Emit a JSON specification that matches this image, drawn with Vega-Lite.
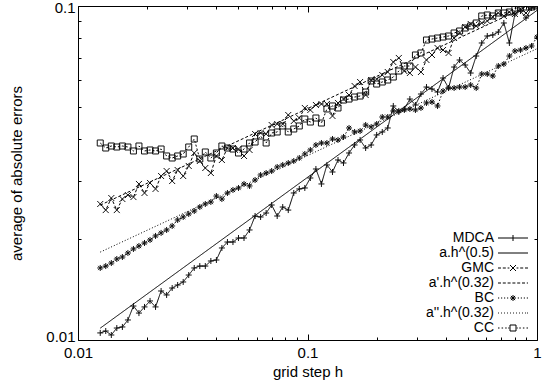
{
  "$schema": "https://vega.github.io/schema/vega-lite/v6.json",
  "width": 459,
  "height": 334,
  "autosize": "none",
  "padding": {"left": 78, "top": 6, "right": 6, "bottom": 48},
  "background": "white",
  "config": {
    "view": {"stroke": "black", "strokeWidth": 1},
    "font": "Liberation Sans",
    "axis": {"grid": false, "domain": false, "tickColor": "black", "tickWidth": 1, "labelColor": "black", "titleColor": "black", "labelFont": "Liberation Sans", "titleFont": "Liberation Sans", "labelFontSize": 15, "titleFontSize": 15, "titleFontWeight": "normal", "labelFlush": false, "labelOverlap": false}
  },
  "datasets": {
    "series": [
      {"h": 0.0125, "MDCA": 0.01050, "GMC": 0.02554, "BC": 0.01643, "CC": 0.03889},
      {"h": 0.01321, "MDCA": 0.01064, "GMC": 0.02449, "BC": 0.01665, "CC": 0.03757},
      {"h": 0.01397, "MDCA": 0.01035, "GMC": 0.02661, "BC": 0.01700, "CC": 0.03809},
      {"h": 0.01476, "MDCA": 0.01086, "GMC": 0.02449, "BC": 0.01748, "CC": 0.03783},
      {"h": 0.01561, "MDCA": 0.01094, "GMC": 0.02643, "BC": 0.01772, "CC": 0.03809},
      {"h": 0.01650, "MDCA": 0.01148, "GMC": 0.02716, "BC": 0.01822, "CC": 0.03783},
      {"h": 0.01744, "MDCA": 0.01264, "GMC": 0.02679, "BC": 0.01873, "CC": 0.03681},
      {"h": 0.01843, "MDCA": 0.01204, "GMC": 0.02932, "BC": 0.01912, "CC": 0.03809},
      {"h": 0.01949, "MDCA": 0.01256, "GMC": 0.02755, "BC": 0.01952, "CC": 0.03681},
      {"h": 0.02060, "MDCA": 0.01309, "GMC": 0.02952, "BC": 0.01993, "CC": 0.03706},
      {"h": 0.02177, "MDCA": 0.01256, "GMC": 0.02833, "BC": 0.02049, "CC": 0.03681},
      {"h": 0.02302, "MDCA": 0.01402, "GMC": 0.03097, "BC": 0.02092, "CC": 0.03731},
      {"h": 0.02433, "MDCA": 0.01364, "GMC": 0.03206, "BC": 0.02135, "CC": 0.03556},
      {"h": 0.02572, "MDCA": 0.01431, "GMC": 0.02992, "BC": 0.02195, "CC": 0.03507},
      {"h": 0.02718, "MDCA": 0.01461, "GMC": 0.03228, "BC": 0.02288, "CC": 0.03556},
      {"h": 0.02873, "MDCA": 0.01492, "GMC": 0.03097, "BC": 0.02335, "CC": 0.03605},
      {"h": 0.03037, "MDCA": 0.01565, "GMC": 0.03319, "BC": 0.02384, "CC": 0.03783},
      {"h": 0.03210, "MDCA": 0.01643, "GMC": 0.03630, "BC": 0.02433, "CC": 0.03998},
      {"h": 0.03394, "MDCA": 0.01665, "GMC": 0.03435, "BC": 0.02501, "CC": 0.03483},
      {"h": 0.03587, "MDCA": 0.01665, "GMC": 0.03273, "BC": 0.02554, "CC": 0.03655},
      {"h": 0.03792, "MDCA": 0.01724, "GMC": 0.03162, "BC": 0.02589, "CC": 0.03507},
      {"h": 0.04009, "MDCA": 0.01736, "GMC": 0.03556, "BC": 0.02698, "CC": 0.03630},
      {"h": 0.04236, "MDCA": 0.01886, "GMC": 0.03459, "BC": 0.02643, "CC": 0.03809},
      {"h": 0.04478, "MDCA": 0.01965, "GMC": 0.03757, "BC": 0.02755, "CC": 0.03757},
      {"h": 0.04734, "MDCA": 0.01965, "GMC": 0.03757, "BC": 0.02813, "CC": 0.03731},
      {"h": 0.05004, "MDCA": 0.02020, "GMC": 0.03731, "BC": 0.02852, "CC": 0.03630},
      {"h": 0.05289, "MDCA": 0.02020, "GMC": 0.03556, "BC": 0.02932, "CC": 0.03731},
      {"h": 0.05591, "MDCA": 0.02135, "GMC": 0.03706, "BC": 0.02892, "CC": 0.03889},
      {"h": 0.05910, "MDCA": 0.02351, "GMC": 0.04138, "BC": 0.03013, "CC": 0.03916},
      {"h": 0.06247, "MDCA": 0.02335, "GMC": 0.04167, "BC": 0.03119, "CC": 0.04081},
      {"h": 0.06603, "MDCA": 0.02400, "GMC": 0.04138, "BC": 0.03162, "CC": 0.03889},
      {"h": 0.06980, "MDCA": 0.02536, "GMC": 0.04403, "BC": 0.03206, "CC": 0.04167},
      {"h": 0.07378, "MDCA": 0.02351, "GMC": 0.04433, "BC": 0.03296, "CC": 0.04196},
      {"h": 0.07799, "MDCA": 0.02501, "GMC": 0.04433, "BC": 0.03342, "CC": 0.04373},
      {"h": 0.08244, "MDCA": 0.02449, "GMC": 0.04717, "BC": 0.03388, "CC": 0.04196},
      {"h": 0.08714, "MDCA": 0.02755, "GMC": 0.04525, "BC": 0.03435, "CC": 0.04283},
      {"h": 0.09209, "MDCA": 0.02833, "GMC": 0.04620, "BC": 0.03507, "CC": 0.04373},
      {"h": 0.09734, "MDCA": 0.02852, "GMC": 0.04951, "BC": 0.03605, "CC": 0.04588},
      {"h": 0.1029, "MDCA": 0.03055, "GMC": 0.04883, "BC": 0.03706, "CC": 0.04494},
      {"h": 0.1088, "MDCA": 0.03251, "GMC": 0.05054, "BC": 0.03836, "CC": 0.04620},
      {"h": 0.1150, "MDCA": 0.02932, "GMC": 0.05089, "BC": 0.03889, "CC": 0.04463},
      {"h": 0.1215, "MDCA": 0.03342, "GMC": 0.05089, "BC": 0.03889, "CC": 0.04917},
      {"h": 0.1285, "MDCA": 0.03184, "GMC": 0.04685, "BC": 0.03998, "CC": 0.05020},
      {"h": 0.1358, "MDCA": 0.03459, "GMC": 0.05125, "BC": 0.03971, "CC": 0.04951},
      {"h": 0.1435, "MDCA": 0.03388, "GMC": 0.05266, "BC": 0.04054, "CC": 0.05230},
      {"h": 0.1517, "MDCA": 0.03630, "GMC": 0.05414, "BC": 0.04313, "CC": 0.05266},
      {"h": 0.1604, "MDCA": 0.03836, "GMC": 0.05761, "BC": 0.04196, "CC": 0.05339},
      {"h": 0.1695, "MDCA": 0.03971, "GMC": 0.05922, "BC": 0.04225, "CC": 0.05376},
      {"h": 0.1792, "MDCA": 0.03757, "GMC": 0.05414, "BC": 0.04403, "CC": 0.05526},
      {"h": 0.1894, "MDCA": 0.03836, "GMC": 0.06004, "BC": 0.04343, "CC": 0.05963},
      {"h": 0.2002, "MDCA": 0.04110, "GMC": 0.06045, "BC": 0.04433, "CC": 0.05840},
      {"h": 0.2117, "MDCA": 0.04196, "GMC": 0.06215, "BC": 0.04652, "CC": 0.05922},
      {"h": 0.2237, "MDCA": 0.04313, "GMC": 0.06344, "BC": 0.04652, "CC": 0.06004},
      {"h": 0.2365, "MDCA": 0.05020, "GMC": 0.06798, "BC": 0.04850, "CC": 0.06129},
      {"h": 0.2500, "MDCA": 0.04816, "GMC": 0.06989, "BC": 0.04850, "CC": 0.06388},
      {"h": 0.2642, "MDCA": 0.04917, "GMC": 0.06388, "BC": 0.04883, "CC": 0.06612},
      {"h": 0.2793, "MDCA": 0.05266, "GMC": 0.06300, "BC": 0.04917, "CC": 0.06612},
      {"h": 0.2953, "MDCA": 0.05054, "GMC": 0.06566, "BC": 0.04883, "CC": 0.07134},
      {"h": 0.3121, "MDCA": 0.05451, "GMC": 0.06344, "BC": 0.04951, "CC": 0.07233},
      {"h": 0.3299, "MDCA": 0.05720, "GMC": 0.06891, "BC": 0.05125, "CC": 0.07909},
      {"h": 0.3487, "MDCA": 0.05642, "GMC": 0.07134, "BC": 0.05161, "CC": 0.07964},
      {"h": 0.3686, "MDCA": 0.05526, "GMC": 0.07487, "BC": 0.05020, "CC": 0.08019},
      {"h": 0.3896, "MDCA": 0.06087, "GMC": 0.07384, "BC": 0.05565, "CC": 0.08075},
      {"h": 0.4118, "MDCA": 0.05681, "GMC": 0.07233, "BC": 0.05681, "CC": 0.08131},
      {"h": 0.4353, "MDCA": 0.06566, "GMC": 0.08019, "BC": 0.05681, "CC": 0.08302},
      {"h": 0.4601, "MDCA": 0.06891, "GMC": 0.08302, "BC": 0.05720, "CC": 0.08416},
      {"h": 0.4864, "MDCA": 0.06657, "GMC": 0.08652, "BC": 0.05720, "CC": 0.08593},
      {"h": 0.5141, "MDCA": 0.06300, "GMC": 0.08834, "BC": 0.05800, "CC": 0.08713},
      {"h": 0.5434, "MDCA": 0.07084, "GMC": 0.08713, "BC": 0.05681, "CC": 0.08895},
      {"h": 0.5744, "MDCA": 0.07749, "GMC": 0.08895, "BC": 0.06257, "CC": 0.09334},
      {"h": 0.6072, "MDCA": 0.08131, "GMC": 0.09018, "BC": 0.06257, "CC": 0.09399},
      {"h": 0.6418, "MDCA": 0.08188, "GMC": 0.09270, "BC": 0.06171, "CC": 0.09334},
      {"h": 0.6784, "MDCA": 0.08359, "GMC": 0.09529, "BC": 0.06612, "CC": 0.09529},
      {"h": 0.7171, "MDCA": 0.08895, "GMC": 0.09334, "BC": 0.06703, "CC": 0.09529},
      {"h": 0.7580, "MDCA": 0.07749, "GMC": 0.09594, "BC": 0.07084, "CC": 0.09594},
      {"h": 0.8013, "MDCA": 0.09463, "GMC": 0.09463, "BC": 0.07333, "CC": 0.09863},
      {"h": 0.8470, "MDCA": 0.09661, "GMC": 0.09795, "BC": 0.07384, "CC": 0.09863},
      {"h": 0.8953, "MDCA": 0.09206, "GMC": 0.09529, "BC": 0.07487, "CC": 0.09931},
      {"h": 0.9465, "MDCA": 0.09863, "GMC": 0.09931, "BC": 0.07591, "CC": 0.09931},
      {"h": 1.0, "MDCA": 0.1000, "GMC": 0.0998, "BC": 0.08075, "CC": 0.1000}
    ],
    "fits": [
      {"name": "a.h^(0.5)", "h": 0.0125, "e": 0.01085},
      {"name": "a.h^(0.5)", "h": 1.0, "e": 0.0970},
      {"name": "a'.h^(0.32)", "h": 0.0125, "e": 0.02534},
      {"name": "a'.h^(0.32)", "h": 1.0, "e": 0.1030},
      {"name": "a''.h^(0.32)", "h": 0.0125, "e": 0.01833},
      {"name": "a''.h^(0.32)", "h": 1.0, "e": 0.0745}
    ]
  },
  "resolve": {
    "scale": {"shape": "independent"},
    "axis": {"x": "independent", "y": "independent"}
  },
  "layer": [
    {
      "data": {"name": "fits"},
      "mark": {"type": "line", "clip": true, "stroke": "black", "strokeWidth": 1},
      "encoding": {
        "x": {"field": "h", "type": "quantitative", "scale": {"type": "log", "domain": [0.01, 1], "nice": false},
          "axis": {"orient": "bottom", "values": [0.01, 0.1, 1], "format": "~g", "tickSize": -6, "labelPadding": 11, "title": "grid step h", "titlePadding": 4}},
        "y": {"field": "e", "type": "quantitative", "scale": {"type": "log", "domain": [0.01, 0.1], "nice": false},
          "axis": {"orient": "left", "values": [0.01, 0.1], "format": "~g", "tickSize": -6, "labelPadding": 9,
                   "labelOffset": {"condition": {"test": "datum.value < 0.05", "value": -4}, "value": 1.5},
                   "title": "average of absolute errors", "titlePadding": 21}},
        "strokeDash": {"field": "name", "type": "nominal",
          "scale": {"domain": ["MDCA", "a.h^(0.5)", "GMC", "a'.h^(0.32)", "BC", "a''.h^(0.32)", "CC"],
                    "range": [[1, 0], [1, 0], [3, 2], [3, 2], [1.5, 2], [1, 2], [2, 2]]},
          "legend": null}
      }
    },
    {
      "data": {"name": "series"},
      "transform": [{"fold": ["MDCA", "GMC", "BC", "CC"], "as": ["name", "e"]}],
      "mark": {"type": "line", "clip": true, "stroke": "black", "strokeWidth": 1},
      "encoding": {
        "x": {"field": "h", "type": "quantitative",
          "axis": {"orient": "bottom", "values": [0.02, 0.03, 0.04, 0.05, 0.06, 0.07, 0.08, 0.09, 0.2, 0.3, 0.4, 0.5, 0.6, 0.7, 0.8, 0.9], "labels": false, "tickSize": -3, "title": null}},
        "y": {"field": "e", "type": "quantitative",
          "axis": {"orient": "left", "values": [0.02, 0.03, 0.04, 0.05, 0.06, 0.07, 0.08, 0.09], "labels": false, "tickSize": -3, "title": null}},
        "strokeDash": {"field": "name", "type": "nominal", "legend": null}
      }
    },
    {
      "data": {"name": "series"},
      "transform": [{"fold": ["MDCA", "GMC", "BC", "CC"], "as": ["name", "e"]}],
      "mark": {"type": "point", "filled": false, "color": "#111111", "strokeWidth": 1, "size": 36, "opacity": 1, "clip": true},
      "encoding": {
        "x": {"field": "h", "type": "quantitative",
          "axis": {"orient": "top", "values": [0.01, 0.1, 1], "labels": false, "tickSize": -6, "title": null}},
        "y": {"field": "e", "type": "quantitative",
          "axis": {"orient": "right", "values": [0.01, 0.1], "labels": false, "tickSize": -6, "title": null}},
        "shape": {"field": "name", "type": "nominal",
          "scale": {"domain": ["MDCA", "GMC", "BC", "CC"],
                    "range": ["M-1,0H1M0,-1V1", "M-1,-1L1,1M-1,1L1,-1", "M-1,0H1M0,-1V1M-0.7,-0.7L0.7,0.7M-0.7,0.7L0.7,-0.7", "M-1,-1H1V1H-1Z"]},
          "legend": null}
      }
    },
    {
      "data": {"name": "fits"},
      "transform": [{"filter": "false"}],
      "mark": {"type": "point", "filled": false, "color": "black", "strokeWidth": 1, "size": 36, "opacity": 1},
      "encoding": {
        "x": {"field": "h", "type": "quantitative",
          "axis": {"orient": "top", "values": [0.02, 0.03, 0.04, 0.05, 0.06, 0.07, 0.08, 0.09, 0.2, 0.3, 0.4, 0.5, 0.6, 0.7, 0.8, 0.9], "labels": false, "tickSize": -3, "title": null}},
        "y": {"field": "e", "type": "quantitative",
          "axis": {"orient": "right", "values": [0.02, 0.03, 0.04, 0.05, 0.06, 0.07, 0.08, 0.09], "labels": false, "tickSize": -3, "title": null}},
        "shape": {"field": "name", "type": "nominal",
          "scale": {"domain": ["MDCA", "a.h^(0.5)", "GMC", "a'.h^(0.32)", "BC", "a''.h^(0.32)", "CC"],
                    "range": [
                      "M-5,0H5M0,-1V1",
                      "M-5,0H5",
                      "M-5,0H-4M-3.4,0H-2.4M-1.8,0H-1.2M1.2,0H1.8M2.4,0H3.4M4,0H5M-1,-1L1,1M-1,1L1,-1",
                      "M-5,0H-4M-3.4,0H-2.4M-1.8,0H-0.8M-0.2,0H0.8M1.4,0H2.4M3,0H4M4.6,0H5",
                      "M-5,0H-4.6M-4,0H-3.6M-3,0H-2.6M-2,0H-1.6M1.6,0H2M2.6,0H3M3.6,0H4M4.6,0H5M-1,0H1M0,-1V1M-0.7,-0.7L0.7,0.7M-0.7,0.7L0.7,-0.7",
                      "M-5,0H-4.7M-4,0H-3.7M-3,0H-2.7M-2,0H-1.7M-1,0H-0.7M0,0H0.3M1,0H1.3M2,0H2.3M3,0H3.3M4,0H4.3M4.7,0H5",
                      "M-5,0H-4.5M-3.8,0H-3.3M-2.6,0H-2.1M-1.6,0H-1.2M1.2,0H1.6M2.1,0H2.6M3.3,0H3.8M4.5,0H5M-1,-1H1V1H-1Z"
                    ]},
          "legend": {"orient": "none", "legendX": 428, "legendY": 225, "title": null, "labelAlign": "right", "labelOffset": -26, "labelFont": "Liberation Sans", "labelFontSize": 14, "labelColor": "black", "labelLimit": 200, "symbolSize": 36, "symbolStrokeWidth": 1, "symbolStrokeColor": "black", "symbolFillColor": "transparent", "symbolOpacity": 1, "rowPadding": 1, "padding": 0, "symbolOffset": 0}}
      }
    }
  ]
}
